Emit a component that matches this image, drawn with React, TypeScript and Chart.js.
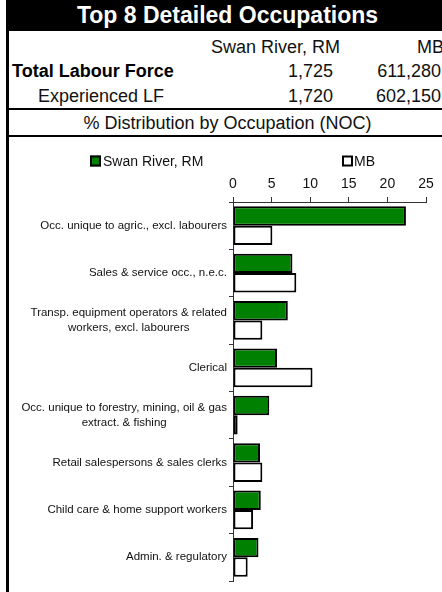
import React, { useEffect, useRef } from "react";
import { Chart, registerables } from "chart.js";

Chart.register(...registerables);

const categories: (string | string[])[] = [
  "Occ. unique to agric., excl. labourers",
  "Sales & service occ., n.e.c.",
  ["Transp. equipment operators & related", "workers, excl. labourers"],
  "Clerical",
  ["Occ. unique to forestry, mining, oil & gas", "extract. & fishing"],
  "Retail salespersons & sales clerks",
  "Child care & home support workers",
  "Admin. & regulatory",
];
const seriesNames = ["Swan River, RM", "MB"];
const swanRiver = [22.4, 7.7, 7.1, 5.7, 4.7, 3.5, 3.6, 3.3];
const mb = [5.1, 8.2, 3.8, 10.3, 0.6, 3.8, 2.6, 1.9];
const xTicks = [0, 25, 5]; // min, max, step

const FONT = "'Liberation Sans', Arial, Helvetica, sans-serif";

const labelPlugin = {
  id: "customLabels",
  afterDraw(chart: any) {
    const ctx = chart.ctx;
    const y = chart.scales.y;
    ctx.save();
    ctx.font = `11.5px ${FONT}`;
    ctx.fillStyle = "#111";
    ctx.textBaseline = "middle";
    ctx.textAlign = "center";
    const right = y.right - 6;
    (chart.data.labels as any[]).forEach((lab, i) => {
      const lines: string[] = Array.isArray(lab) ? lab : [lab];
      const maxW = Math.max(...lines.map((l) => ctx.measureText(l).width));
      const cx = right - maxW / 2;
      const cy = y.getPixelForValue(i);
      lines.forEach((l, j) => {
        ctx.fillText(l, cx, cy + (j - (lines.length - 1) / 2) * 15.4);
      });
    });
    // legend
    const pos = [
      { box: 81, text: 94 },
      { box: 333, text: 345 },
    ];
    const ly = 24;
    ctx.font = `14px ${FONT}`;
    ctx.textAlign = "left";
    chart.data.datasets.forEach((ds: any, i: number) => {
      const p = pos[i];
      ctx.fillStyle = ds.backgroundColor;
      ctx.fillRect(p.box, ly - 5.5, 11, 11);
      ctx.strokeStyle = "#000";
      ctx.lineWidth = 2;
      ctx.strokeRect(p.box + 1, ly - 4.5, 9, 9);
      ctx.fillStyle = "#111";
      ctx.fillText(ds.label, p.text, ly + 1);
    });
    ctx.restore();
  },
};

function ChartCanvas() {
  const ref = useRef<HTMLCanvasElement>(null);
  useEffect(() => {
    if (!ref.current) return;
    const chart = new Chart(ref.current, {
      type: "bar",
      data: {
        labels: categories as any,
        datasets: [
          {
            label: seriesNames[0],
            data: swanRiver,
            backgroundColor: "#008000",
            borderColor: "#000",
            borderWidth: 2,
            borderSkipped: false,
          },
          {
            label: seriesNames[1],
            data: mb,
            backgroundColor: "#ffffff",
            borderColor: "#000",
            borderWidth: 2,
            borderSkipped: false,
          },
        ],
      },
      options: {
        indexAxis: "y",
        responsive: false,
        animation: false,
        devicePixelRatio: 1,
        layout: { padding: { top: 0, right: 23, bottom: 11, left: 0 } },
        datasets: { bar: { categoryPercentage: 0.816, barPercentage: 1.0 } },
        plugins: { legend: { display: false }, tooltip: { enabled: false } },
        scales: {
          x: {
            position: "top",
            min: xTicks[0],
            max: xTicks[1],
            ticks: {
              stepSize: xTicks[2],
              color: "#111",
              font: { family: FONT, size: 14 },
              padding: 4,
              maxRotation: 0,
            },
            grid: { drawOnChartArea: false, drawTicks: true, tickLength: 5, color: "#333" },
            border: { display: true, color: "#333", width: 1 },
            afterFit: (s: any) => {
              s.height = 65;
            },
          },
          y: {
            ticks: { display: false },
            grid: { drawOnChartArea: false, drawTicks: true, tickLength: 4, color: "#333", offset: true },
            border: { display: true, color: "#333", width: 1 },
            afterFit: (s: any) => {
              s.width = 224;
            },
          },
        },
      },
      plugins: [labelPlugin],
    });
    return () => chart.destroy();
  }, []);
  return <canvas ref={ref} width={440} height={455} style={{ display: "block" }} />;
}

const abs = (o: any): React.CSSProperties => ({ position: "absolute", whiteSpace: "nowrap", ...o });

export default function App() {
  const txt = { fontSize: 18, lineHeight: "20px", color: "#111" };
  return (
    <div
      style={{
        position: "fixed",
        left: 0,
        top: 0,
        width: 442,
        height: 592,
        overflow: "hidden",
        background: "#fff",
        fontFamily: FONT,
      }}
    >
      <div style={abs({ left: 6, top: 0, width: 3, height: 592, background: "#000" })} />
      <div
        style={abs({
          left: 6,
          top: 0,
          width: 443,
          height: 31,
          background: "#000",
          color: "#fff",
          fontWeight: "bold",
          fontSize: 23,
          lineHeight: "31px",
          textAlign: "center",
        })}
      >
        Top 8 Detailed Occupations
      </div>
      <div style={abs({ ...txt, right: 442 - 340, top: 37 })}>Swan River, RM</div>
      <div style={abs({ ...txt, right: 442 - 444, top: 37 })}>MB</div>
      <div style={abs({ ...txt, left: 12, top: 61, fontWeight: "bold", color: "#000" })}>Total Labour Force</div>
      <div style={abs({ ...txt, right: 442 - 333, top: 61 })}>1,725</div>
      <div style={abs({ ...txt, right: 442 - 441, top: 61 })}>611,280</div>
      <div style={abs({ ...txt, left: 38, top: 86 })}>Experienced LF</div>
      <div style={abs({ ...txt, right: 442 - 333, top: 86 })}>1,720</div>
      <div style={abs({ ...txt, right: 442 - 441, top: 86 })}>602,150</div>
      <div style={abs({ left: 6, top: 108, width: 443, height: 2, background: "#000" })} />
      <div style={abs({ ...txt, left: 6, width: 443, textAlign: "center", top: 113 })}>
        % Distribution by Occupation (NOC)
      </div>
      <div style={abs({ left: 6, top: 135, width: 443, height: 2, background: "#000" })} />
      <div style={abs({ left: 9, top: 137 })}>
        <ChartCanvas />
      </div>
    </div>
  );
}
